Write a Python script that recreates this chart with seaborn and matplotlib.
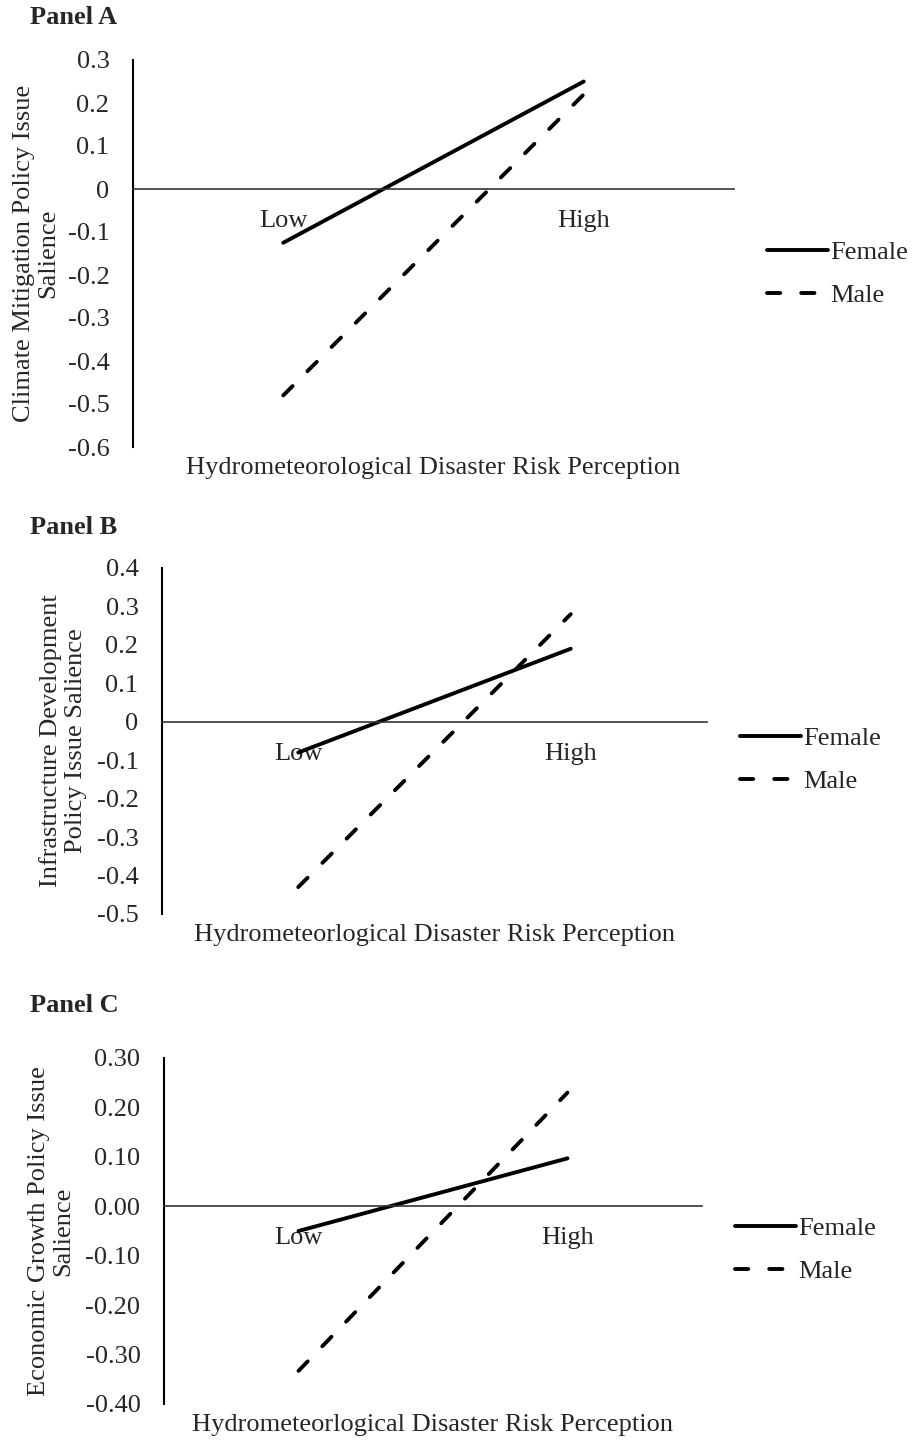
import pandas as pd
import numpy as np
import seaborn as sns
import matplotlib.pyplot as plt
from matplotlib.ticker import FuncFormatter

sns.set_style("white")
plt.rcParams["font.family"] = ["Liberation Serif", "DejaVu Serif"]
plt.rcParams["font.size"] = 19

# Data.
levels = ["Low", "High"]
genders = ["Female", "Male"]

climate_female = [-0.125, 0.25]
climate_male = [-0.48, 0.22]

infra_female = [-0.08, 0.19]
infra_male = [-0.43, 0.28]

econ_female = [-0.05, 0.097]
econ_male = [-0.333, 0.23]

panels = [
    {"title": "Panel A",
     "values": (climate_female, climate_male),
     "ylabel": "Climate Mitigation Policy Issue\nSalience",
     "xlabel": "Hydrometeorological Disaster Risk Perception",
     "ylim": (-0.6, 0.3), "fmt": "short",
     "rect": [133, 60, 734, 447], "ylab_x": 36, "title_y": 17, "leg_y": 274},
    {"title": "Panel B",
     "values": (infra_female, infra_male),
     "ylabel": "Infrastructure Development\nPolicy Issue Salience",
     "xlabel": "Hydrometeorlogical Disaster Risk Perception",
     "ylim": (-0.5, 0.4), "fmt": "short",
     "rect": [162, 568, 707, 914], "ylab_x": 63, "title_y": 528, "leg_y": 760},
    {"title": "Panel C",
     "values": (econ_female, econ_male),
     "ylabel": "Economic Growth Policy Issue\nSalience",
     "xlabel": "Hydrometeorlogical Disaster Risk Perception",
     "ylim": (-0.4, 0.3), "fmt": "long",
     "rect": [164, 1058, 702, 1404], "ylab_x": 51, "title_y": 1005, "leg_y": 1250},
]

W, H = 919, 1440
fig = plt.figure(figsize=(W / 100, H / 100), dpi=100)


def short_fmt(v, pos):
    v = round(v, 2)
    if abs(v) < 1e-9:
        return "0"
    return f"{v:g}"


def long_fmt(v, pos):
    v = round(v, 2)
    if abs(v) < 1e-9:
        v = 0.0
    return f"{v:.2f}"


for p in panels:
    x0, y0, x1, y1 = p["rect"]
    ax = fig.add_axes([x0 / W, 1 - y1 / H, (x1 - x0) / W, (y1 - y0) / H])

    female, male = p["values"]
    df = pd.DataFrame({
        "Level": levels * 2,
        "Value": list(female) + list(male),
        "Gender": ["Female"] * 2 + ["Male"] * 2,
    })

    sns.lineplot(data=df, x="Level", y="Value", style="Gender",
                 dashes={"Female": "", "Male": (3.4, 5.4)},
                 color="black", linewidth=2.8, ax=ax, legend=True)
    for line in ax.lines:
        line.set_dash_capstyle("round")
        line.set_solid_capstyle("round")

    ax.set_xlim(-0.5, 1.5)
    ax.set_ylim(*p["ylim"])
    ax.set_yticks(np.round(np.arange(p["ylim"][0], p["ylim"][1] + 0.001, 0.1), 2))
    ax.yaxis.set_major_formatter(FuncFormatter(short_fmt if p["fmt"] == "short" else long_fmt))

    # Excel-style axes: category axis crossing at zero.
    for s in ["top", "right"]:
        ax.spines[s].set_visible(False)
    ax.spines["left"].set_color("black")
    ax.spines["left"].set_linewidth(1.5)
    ax.spines["bottom"].set_position(("data", 0))
    ax.spines["bottom"].set_color("#333333")
    ax.spines["bottom"].set_linewidth(1.2)
    ax.tick_params(axis="x", length=0, pad=15, labelsize=19)
    ax.tick_params(axis="y", length=0, pad=17, labelsize=19)

    ax.set_xlabel("")
    ax.set_ylabel(p["ylabel"], fontsize=19, linespacing=1.15)
    ax.yaxis.label.set_va("center")
    ax.yaxis.set_label_coords((p["ylab_x"] - x0) / (x1 - x0), 0.5)

    ax.annotate(p["xlabel"], xy=(0.5, 0), xycoords="axes fraction",
                xytext=(0, -15), textcoords="offset points",
                ha="center", va="center", fontsize=19)

    handles, labels = ax.get_legend_handles_labels()
    ax.legend(handles, labels, loc="center left",
              bbox_to_anchor=(x1 / W + 0.036, 1 - p["leg_y"] / H),
              bbox_transform=fig.transFigure, frameon=False,
              handlelength=2.3, handletextpad=0.1, labelspacing=0.75,
              borderaxespad=0, borderpad=0, fontsize=19)

    fig.text(30 / W, 1 - p["title_y"] / H, p["title"], fontweight="bold",
             ha="left", va="center", fontsize=19)

plt.savefig("out.png", dpi=100)
